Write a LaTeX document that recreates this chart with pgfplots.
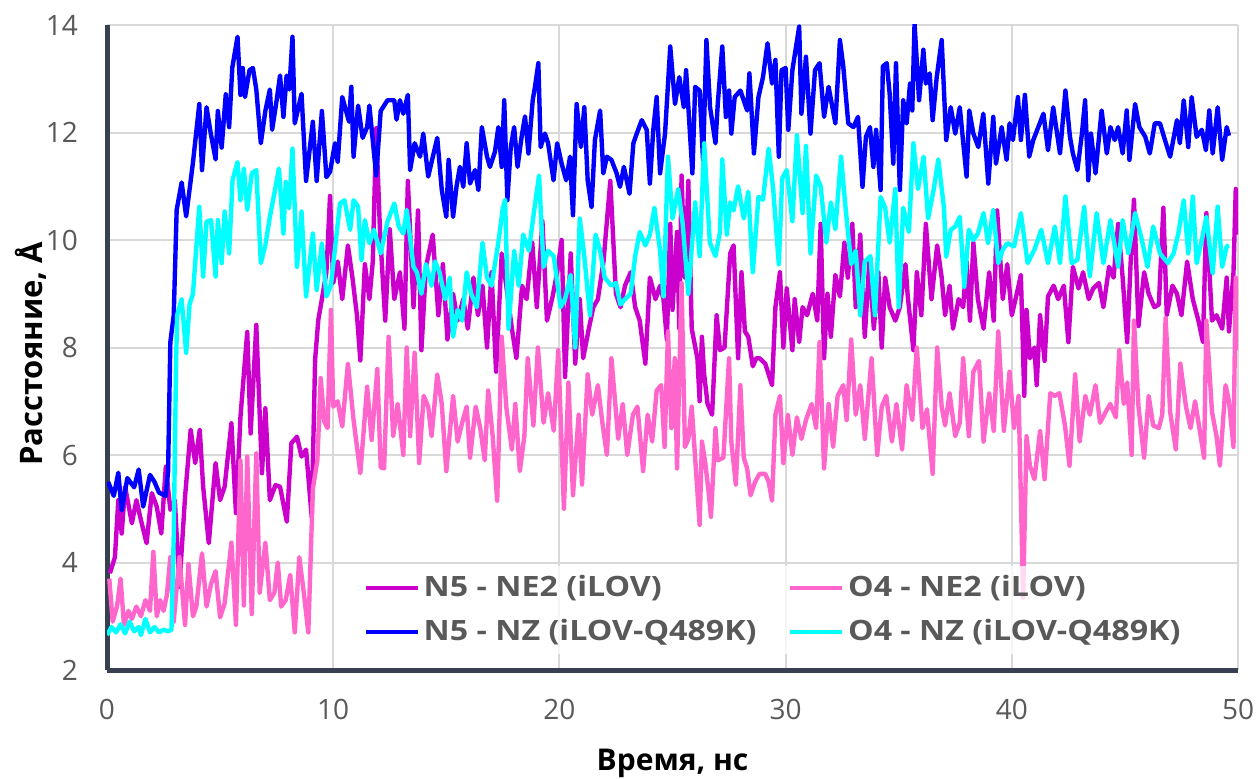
\documentclass[border=0pt]{standalone}
\usepackage{fontspec}
\setmainfont{Open Sans}
\newfontfamily\legfont{Open Sans}[FakeStretch=1.15]
\usepackage{pgfplots}
\pgfplotsset{compat=1.18}
\definecolor{cMag}{RGB}{204,0,204}
\definecolor{cPink}{RGB}{255,102,204}
\definecolor{cBlue}{RGB}{0,0,255}
\definecolor{cCyan}{RGB}{0,255,255}
\definecolor{axisdark}{RGB}{54,64,80}
\definecolor{gridgray}{RGB}{217,217,217}
\definecolor{txtgray}{RGB}{89,89,89}

\begin{document}
\begin{tikzpicture}
\begin{axis}[
  scale only axis,
  width=565.5pt, height=322.5pt,
  xmin=0, xmax=50, ymin=2, ymax=14,
  xtick={0,10,...,50}, ytick={2,4,...,14},
  axis x line*=bottom, axis y line*=left,
  axis line style={draw=axisdark, line width=2.5pt},
  major tick length=0pt,
  grid=major,
  major grid style={draw=gridgray, line width=1pt},
  /pgf/number format/assume math mode=true,
  tick label style={font=\fontsize{14}{16}\selectfont, text=txtgray},
  xticklabel style={yshift=-11pt},
  yticklabel style={xshift=-11pt},
  xlabel={Время, нс},
  ylabel={Расстояние, Å},
  xlabel style={font=\fontsize{15}{18}\selectfont\bfseries, at={(axis description cs:0.5,-0.1450)}, anchor=center},
  ylabel style={font=\fontsize{15.5}{18}\selectfont\bfseries, at={(axis description cs:-0.0672,0.49)}, anchor=center},
  every axis plot/.append style={line width=2.2pt, line join=round, no markers},
  legend columns=2,
  legend cell align=left,
  legend image code/.code={\draw[#1, line width=1.8pt] (0pt,0pt) -- (26pt,0pt);},
  legend style={
    at={(rel axis cs:0.2217,0.024)}, anchor=south west,
    draw=none, fill=white, fill opacity=0.75, text opacity=1,
    font=\fontsize{14}{17}\selectfont\legfont\bfseries, text=txtgray,
    nodes={inner sep=2pt, text height=11pt, text depth=3pt},
    row sep=4pt,
    /tikz/column 2/.style={column sep=14pt}
  },
]

% N5 - NE2 (iLOV)
\addplot[cMag] coordinates {
(0.13,3.8) (0.35,4.1) (0.5,5.16) (0.65,4.54) (0.8,5.41) (1.1,4.73) (1.3,5.16) (1.5,4.79) (1.75,4.36) (1.98,5.29)
(2.2,5.04) (2.4,4.54) (2.6,5.78) (2.8,4.98) (3.0,5.16) (3.2,3.55) (3.45,5.22) (3.7,6.47) (3.9,5.85) (4.1,6.47)
(4.25,5.41) (4.5,4.36) (4.8,5.85) (5.0,5.16) (5.2,5.41) (5.5,6.59) (5.7,4.92) (5.9,6.71) (6.2,8.29) (6.35,6.4)
(6.6,8.42) (6.85,5.66) (7.0,6.87) (7.2,5.16) (7.45,5.44) (7.65,5.41) (7.95,4.76) (8.15,6.22) (8.4,6.34) (8.6,5.97)
(8.8,6.1) (9.05,4.85) (9.2,7.77) (9.34,8.51) (9.5,8.9) (9.7,9.4) (9.86,10.82) (10.0,9.2) (10.2,9.6) (10.4,8.9)
(10.65,9.9) (10.85,9.3) (11.05,8.6) (11.2,7.76) (11.4,9.55) (11.6,8.9) (11.75,9.6) (11.9,12.08) (12.07,10.15) (12.3,8.5)
(12.5,10.2) (12.7,8.9) (12.95,9.4) (13.15,8.35) (13.3,11.1) (13.55,8.75) (13.75,10.55) (13.9,7.95) (14.1,9.5) (14.4,10.1)
(14.65,8.6) (14.85,9.55) (15.05,8.15) (15.3,9.0) (15.5,8.5) (15.75,8.9) (15.95,8.35) (16.2,9.3) (16.4,8.6) (16.6,9.15)
(16.8,8.0) (17.0,9.4) (17.2,7.55) (17.45,9.75) (17.65,9.15) (17.9,8.35) (18.1,7.8) (18.35,9.15) (18.55,8.9) (18.8,9.95)
(19.0,8.75) (19.25,10.35) (19.45,8.5) (19.7,8.95) (19.9,9.4) (20.1,10.0) (20.25,7.45) (20.5,9.75) (20.7,7.7) (20.9,8.9)
(21.05,7.8) (21.3,8.35) (21.5,8.75) (21.7,8.9) (21.95,9.6) (22.25,11.1) (22.5,9.0) (22.7,8.75) (22.9,9.15) (23.15,9.4)
(23.35,8.75) (23.55,8.5) (23.8,7.7) (24.0,9.3) (24.25,8.9) (24.45,9.15) (24.6,8.9) (24.75,8.15) (24.9,10.3) (25.0,8.7)
(25.2,10.15) (25.3,8.35) (25.4,11.2) (25.55,9.3) (25.7,11.1) (25.85,8.35) (26.1,7.8) (26.2,7.0) (26.3,8.2) (26.4,7.5)
(26.55,6.95) (26.75,6.75) (26.95,8.6) (27.1,7.95) (27.3,8.0) (27.55,9.75) (27.7,9.9) (27.9,7.8) (28.05,9.4) (28.2,8.3)
(28.35,8.2) (28.55,7.65) (28.7,7.8) (28.85,7.8) (29.1,7.7) (29.4,7.3) (29.55,8.75) (29.75,9.4) (29.9,8.0) (30.05,9.1)
(30.3,7.95) (30.4,8.9) (30.6,8.1) (30.75,8.75) (30.95,8.6) (31.2,9.0) (31.4,8.5) (31.55,10.3) (31.7,7.8) (31.85,9.0)
(32.0,8.2) (32.2,9.35) (32.4,8.95) (32.6,9.95) (32.75,9.3) (32.95,10.3) (33.1,8.75) (33.3,10.1) (33.5,8.2) (33.7,9.6)
(33.9,8.35) (34.1,9.4) (34.25,8.0) (34.4,9.3) (34.6,8.75) (34.85,8.5) (35.05,8.75) (35.3,9.55) (35.4,8.95) (35.65,7.95)
(35.8,9.4) (36.0,8.6) (36.2,10.3) (36.45,8.9) (36.7,9.9) (36.9,9.3) (37.05,8.6) (37.25,9.15) (37.4,8.35) (37.65,8.9)
(37.85,8.75) (38.0,9.6) (38.15,8.5) (38.3,9.95) (38.5,8.9) (38.75,8.35) (39.0,9.4) (39.2,8.5) (39.35,10.55) (39.6,8.9)
(39.8,9.55) (40.0,8.6) (40.3,9.15) (40.4,9.35) (40.55,7.1) (40.65,8.7) (40.8,7.8) (41.0,8.0) (41.1,7.3) (41.25,8.6)
(41.45,7.75) (41.6,8.95) (41.85,9.15) (42.05,8.9) (42.3,9.15) (42.5,8.1) (42.7,9.5) (42.95,9.1) (43.15,9.4) (43.4,8.9)
(43.6,9.1) (43.85,9.2) (44.05,8.75) (44.3,9.5) (44.5,9.3) (44.7,10.3) (44.9,9.3) (45.1,8.1) (45.25,9.55) (45.4,10.75)
(45.6,8.4) (45.85,9.4) (46.05,9.0) (46.3,8.75) (46.5,8.8) (46.7,10.6) (46.85,8.6) (47.1,9.15) (47.3,9.0) (47.5,8.6)
(47.75,9.6) (48.0,8.9) (48.25,8.5) (48.45,8.1) (48.6,10.5) (48.85,8.5) (49.05,8.6) (49.3,8.35) (49.5,9.3) (49.6,8.3)
(49.8,9.4) (49.9,10.95) (50.0,10.1)
};
\addlegendentry{N5 - NE2 (iLOV)}

% O4 - NE2 (iLOV)
\addplot[cPink] coordinates {
(0.1,3.7) (0.25,2.9) (0.45,3.2) (0.6,3.7) (0.75,2.84) (0.95,3.1) (1.1,2.95) (1.3,3.18) (1.5,3.0) (1.7,3.3)
(1.9,3.1) (2.05,4.2) (2.2,3.0) (2.35,3.3) (2.5,3.1) (2.65,3.4) (2.8,4.1) (2.95,2.9) (3.2,4.1) (3.45,2.84)
(3.6,3.97) (3.8,3.0) (3.95,3.18) (4.2,4.17) (4.4,3.18) (4.6,3.6) (4.8,3.84) (5.0,2.98) (5.2,3.24) (5.5,4.37)
(5.7,2.84) (5.9,5.9) (6.05,3.2) (6.2,5.97) (6.4,3.04) (6.6,6.03) (6.75,3.44) (7.0,4.37) (7.2,3.3) (7.4,3.44)
(7.55,4.0) (7.7,3.18) (7.9,3.3) (8.1,3.77) (8.3,2.7) (8.5,4.1) (8.7,3.44) (8.9,2.7) (9.1,5.37) (9.3,5.9)
(9.45,7.43) (9.6,6.63) (9.75,6.5) (9.9,8.7) (10.0,6.9) (10.2,7.0) (10.4,6.53) (10.65,7.7) (10.9,6.65) (11.2,5.66)
(11.5,7.27) (11.7,6.28) (11.95,7.6) (12.1,5.77) (12.25,5.75) (12.45,8.2) (12.65,6.35) (12.85,6.95) (13.1,6.0) (13.25,8.0)
(13.4,6.35) (13.6,7.9) (13.8,5.85) (14.0,7.1) (14.2,6.9) (14.35,6.35) (14.6,7.5) (14.8,6.95) (15.0,5.7) (15.3,7.1)
(15.5,6.25) (15.7,6.6) (15.9,6.9) (16.05,5.95) (16.3,6.9) (16.5,6.5) (16.7,5.9) (16.85,7.2) (17.05,6.35) (17.25,5.15)
(17.45,8.2) (17.65,6.9) (17.9,6.1) (18.05,6.95) (18.25,5.7) (18.45,6.35) (18.6,7.8) (18.85,6.55) (19.05,8.0) (19.3,6.6)
(19.5,7.15) (19.75,6.45) (19.95,7.95) (20.2,5.0) (20.4,7.35) (20.6,5.25) (20.85,6.75) (21.0,5.45) (21.25,7.5) (21.45,6.75)
(21.7,7.3) (21.9,6.6) (22.1,6.0) (22.3,7.8) (22.6,6.3) (22.8,6.95) (23.0,6.0) (23.25,6.75) (23.45,6.9) (23.7,5.7)
(23.9,6.75) (24.1,6.25) (24.3,7.2) (24.5,7.3) (24.65,6.15) (24.8,8.3) (24.95,6.5) (25.1,7.8) (25.2,5.75) (25.4,9.2)
(25.55,6.15) (25.7,6.3) (25.85,6.9) (26.0,5.95) (26.2,4.7) (26.3,6.25) (26.45,5.85) (26.6,5.3) (26.7,4.85) (26.9,6.5)
(27.0,5.9) (27.25,5.95) (27.5,7.8) (27.6,6.25) (27.8,5.45) (28.0,7.3) (28.15,5.95) (28.3,5.75) (28.45,5.25) (28.65,5.5)
(28.85,5.65) (29.1,5.65) (29.25,5.5) (29.4,5.15) (29.55,6.75) (29.75,7.1) (29.9,5.85) (30.1,6.75) (30.3,6.0) (30.5,6.7)
(30.7,6.3) (30.9,6.65) (31.15,6.95) (31.35,6.5) (31.5,8.1) (31.7,5.75) (31.9,6.95) (32.1,6.15) (32.3,7.1) (32.55,7.3)
(32.7,6.65) (32.9,8.15) (33.1,6.75) (33.3,7.3) (33.5,6.3) (33.8,7.8) (34.05,6.0) (34.25,6.9) (34.45,7.1) (34.7,6.25)
(34.9,6.95) (35.15,6.1) (35.35,7.3) (35.6,6.65) (35.8,8.0) (36.05,6.5) (36.25,6.85) (36.5,5.65) (36.7,8.0) (36.9,6.9)
(37.05,6.55) (37.25,7.15) (37.5,6.35) (37.7,6.6) (37.85,7.8) (38.1,6.35) (38.3,7.55) (38.55,7.75) (38.75,6.25) (39.0,7.15)
(39.2,6.45) (39.4,8.3) (39.65,6.45) (39.9,7.55) (40.1,6.5) (40.3,7.1) (40.5,3.35) (40.65,6.35) (40.8,5.8) (41.0,5.55)
(41.25,6.45) (41.45,5.55) (41.7,7.15) (41.9,7.1) (42.1,7.15) (42.35,6.55) (42.55,5.8) (42.8,7.5) (43.0,6.25) (43.25,7.1)
(43.45,6.75) (43.7,7.3) (43.9,6.6) (44.15,6.8) (44.35,6.95) (44.6,6.7) (44.75,7.95) (44.95,6.95) (45.1,7.35) (45.3,6.0)
(45.4,8.5) (45.6,6.9) (45.85,5.95) (46.05,7.1) (46.25,6.55) (46.5,6.5) (46.65,6.75) (46.8,8.55) (47.0,6.8) (47.25,6.1)
(47.45,7.7) (47.7,6.9) (47.9,6.5) (48.1,7.0) (48.35,6.35) (48.5,5.95) (48.6,8.5) (48.85,6.8) (49.05,6.35) (49.2,5.8)
(49.45,7.3) (49.6,7.0) (49.8,6.15) (49.9,9.3) (50.0,7.95)
};
\addlegendentry{O4 - NE2 (iLOV)}

% N5 - NZ (iLOV-Q489K)
\addplot[cBlue] coordinates {
(0.05,5.5) (0.3,5.24) (0.5,5.67) (0.65,4.97) (0.9,5.57) (1.2,5.4) (1.4,5.73) (1.6,5.04) (1.9,5.63) (2.1,5.5)
(2.3,5.3) (2.6,5.24) (2.7,5.7) (2.8,8.1) (2.95,8.6) (3.08,10.56) (3.3,11.07) (3.5,10.44) (3.8,11.44) (4.08,12.53)
(4.2,11.3) (4.4,12.47) (4.58,12.0) (4.8,11.5) (4.9,12.4) (5.07,11.72) (5.25,12.71) (5.4,12.1) (5.54,13.21) (5.77,13.78)
(5.9,12.7) (6.0,13.2) (6.1,12.66) (6.3,13.16) (6.45,13.2) (6.6,12.8) (6.8,11.8) (7.0,12.4) (7.2,12.8) (7.3,12.05)
(7.5,12.6) (7.65,13.06) (7.8,12.29) (7.94,13.06) (8.06,12.8) (8.2,13.78) (8.3,12.17) (8.6,12.72) (8.8,11.1) (9.1,12.2)
(9.27,11.1) (9.5,12.4) (9.7,11.17) (9.86,11.27) (10.08,11.8) (10.2,11.45) (10.4,12.66) (10.7,12.2) (10.8,12.85) (10.9,11.55)
(11.1,12.5) (11.3,11.9) (11.5,12.1) (11.6,12.5) (11.9,11.2) (12.1,12.4) (12.4,12.6) (12.7,12.6) (12.8,12.24) (12.95,12.6)
(13.1,12.35) (13.3,12.7) (13.4,11.3) (13.6,11.8) (13.84,11.55) (13.98,11.98) (14.2,11.18) (14.6,11.9) (14.8,10.93) (15.0,10.43)
(15.1,11.49) (15.3,10.43) (15.45,10.99) (15.6,11.36) (15.75,10.99) (15.9,11.8) (16.05,11.05) (16.27,11.3) (16.42,10.93) (16.57,12.1)
(16.8,11.55) (16.93,11.36) (17.15,11.64) (17.3,12.1) (17.45,11.36) (17.56,12.6) (17.7,10.74) (17.85,11.73) (18.0,12.1) (18.15,11.36)
(18.33,11.92) (18.48,12.3) (18.63,11.61) (18.82,12.6) (18.92,12.85) (19.07,13.29) (19.17,11.73) (19.36,11.98) (19.5,11.8) (19.74,11.11)
(19.9,11.8) (20.1,11.42) (20.3,11.11) (20.47,11.55) (20.6,10.46) (20.76,12.53) (20.95,11.73) (21.1,12.47) (21.25,11.11) (21.42,10.61)
(21.57,11.86) (21.8,12.41) (21.94,11.24) (22.1,11.55) (22.3,11.49) (22.53,11.24) (22.68,10.99) (22.85,11.36) (23.1,10.86) (23.27,11.8)
(23.42,11.98) (23.64,12.23) (23.86,12.05) (24.0,11.05) (24.15,12.05) (24.3,12.66) (24.45,11.24) (24.67,11.98) (24.9,13.6) (25.11,12.53)
(25.3,13.03) (25.5,12.47) (25.6,13.16) (25.88,11.24) (26.0,12.85) (26.2,12.78) (26.35,11.49) (26.5,13.72) (26.66,12.47) (26.9,11.8)
(27.0,12.53) (27.2,13.6) (27.36,12.29) (27.5,12.78) (27.6,11.98) (27.75,12.66) (28.0,12.78) (28.3,12.41) (28.4,13.1) (28.6,11.61)
(28.8,12.66) (29.0,13.03) (29.2,13.66) (29.4,12.91) (29.55,13.35) (29.7,11.55) (29.82,13.16) (30.0,13.2) (30.12,12.05) (30.3,13.16)
(30.6,13.97) (30.7,12.35) (30.9,13.41) (31.1,11.98) (31.3,13.16) (31.5,13.29) (31.7,12.29) (31.9,12.85) (32.2,12.17) (32.4,13.72)
(32.55,13.23) (32.77,12.17) (33.0,12.1) (33.2,12.29) (33.4,10.99) (33.55,11.92) (33.73,12.1) (33.88,11.36) (34.0,12.05) (34.2,10.93)
(34.3,13.23) (34.47,13.29) (34.6,12.72) (34.76,11.42) (34.88,13.29) (35.05,10.93) (35.2,12.6) (35.35,12.17) (35.5,12.91) (35.6,12.41)
(35.7,14.03) (35.9,12.6) (36.09,13.54) (36.2,12.91) (36.37,13.1) (36.5,12.23) (36.68,13.03) (36.9,13.72) (37.1,11.86) (37.3,12.47)
(37.5,11.98) (37.7,12.47) (38.0,11.18) (38.12,12.41) (38.3,11.98) (38.52,11.73) (38.74,12.35) (38.96,11.05) (39.18,12.29) (39.3,11.42)
(39.55,12.1) (39.77,11.49) (39.9,12.17) (40.05,11.86) (40.27,12.66) (40.4,11.86) (40.58,12.7) (40.77,11.55) (40.95,11.86) (41.17,12.1)
(41.4,12.35) (41.6,11.67) (41.83,12.47) (42.13,11.61) (42.37,12.78) (42.57,11.92) (42.7,11.61) (42.9,11.3) (43.1,11.98) (43.24,12.6)
(43.38,11.11) (43.5,11.98) (43.7,11.24) (43.97,12.41) (44.2,11.61) (44.36,12.1) (44.55,11.86) (44.7,12.1) (44.9,11.61) (45.08,12.41)
(45.2,11.49) (45.45,12.53) (45.64,12.1) (45.9,11.92) (46.1,11.61) (46.32,12.17) (46.55,12.17) (46.77,11.86) (47.0,11.55) (47.3,12.23)
(47.43,11.8) (47.6,12.6) (47.8,11.73) (47.95,12.66) (48.17,11.92) (48.4,12.05) (48.58,11.67) (48.73,12.41) (48.88,11.61) (49.1,12.47)
(49.3,11.49) (49.5,12.1) (49.6,11.94)
};
\addlegendentry{N5 - NZ (iLOV-Q489K)}

% O4 - NZ (iLOV-Q489K)
\addplot[cCyan] coordinates {
(0.0,2.65) (0.2,2.8) (0.4,2.7) (0.6,2.85) (0.8,2.68) (1.0,2.9) (1.2,2.72) (1.4,2.8) (1.5,2.65) (1.7,2.95)
(1.9,2.7) (2.1,2.8) (2.3,2.7) (2.5,2.75) (2.7,2.72) (2.85,2.75) (2.95,4.5) (3.05,7.6) (3.1,8.6) (3.3,8.9)
(3.5,7.9) (3.65,8.8) (3.8,9.0) (4.08,10.62) (4.25,9.32) (4.4,10.34) (4.6,10.37) (4.8,9.32) (4.9,10.37) (5.07,9.57)
(5.2,10.53) (5.4,9.75) (5.55,11.12) (5.77,11.45) (5.9,10.74) (6.05,11.33) (6.2,10.56) (6.4,11.24) (6.6,11.3) (6.8,9.57)
(7.0,9.9) (7.2,10.43) (7.4,10.87) (7.6,11.33) (7.8,10.12) (7.9,11.08) (8.05,10.59) (8.2,11.7) (8.4,9.5) (8.6,10.53)
(8.8,8.95) (9.1,10.12) (9.27,9.07) (9.5,9.94) (9.7,8.95) (9.9,9.16) (10.3,10.68) (10.5,10.74) (10.75,10.19) (10.9,10.74)
(11.1,10.62) (11.25,9.63) (11.4,10.37) (11.6,9.94) (11.8,10.19) (12.1,9.75) (12.4,10.34) (12.7,10.68) (12.9,10.25) (13.1,10.12)
(13.25,10.56) (13.55,9.5) (13.7,9.4) (13.9,9.0) (14.1,9.55) (14.35,9.15) (14.5,9.6) (14.7,9.4) (14.95,8.9) (15.15,9.3)
(15.3,8.2) (15.5,8.7) (15.7,8.5) (15.9,9.4) (16.1,9.0) (16.35,8.75) (16.6,9.95) (16.8,9.3) (17.0,9.15) (17.3,9.95)
(17.5,10.6) (17.6,10.75) (17.75,8.35) (18.0,9.8) (18.2,9.15) (18.4,10.1) (18.65,9.8) (18.9,10.6) (19.1,11.2) (19.3,9.5)
(19.5,9.8) (19.75,9.7) (20.05,8.75) (20.25,8.9) (20.5,9.35) (20.7,8.0) (20.9,10.4) (21.1,9.7) (21.35,8.6) (21.6,10.1)
(21.8,9.8) (22.0,9.3) (22.3,9.15) (22.5,9.2) (22.7,8.8) (22.9,8.9) (23.15,9.0) (23.35,9.7) (23.55,10.15) (23.8,9.9)
(24.0,10.1) (24.2,10.6) (24.45,9.8) (24.6,8.95) (24.8,11.55) (25.0,10.4) (25.25,10.95) (25.45,10.3) (25.7,9.0) (26.0,10.7)
(26.2,9.7) (26.4,11.8) (26.65,9.95) (26.9,9.7) (27.1,10.15) (27.2,11.5) (27.4,10.1) (27.55,10.7) (27.7,10.55) (27.9,11.0)
(28.15,10.4) (28.35,10.9) (28.55,9.4) (28.8,10.8) (29.0,10.75) (29.25,11.7) (29.45,10.95) (29.7,9.55) (29.85,11.15) (30.05,11.3)
(30.3,10.35) (30.5,11.95) (30.75,10.5) (30.9,11.75) (31.1,9.75) (31.35,11.2) (31.55,11.0) (31.8,9.95) (32.0,10.7) (32.2,10.2)
(32.45,11.55) (32.65,10.6) (32.9,9.55) (33.1,9.8) (33.3,8.6) (33.5,9.6) (33.75,9.7) (33.95,8.6) (34.2,10.8) (34.4,10.6)
(34.6,9.95) (34.85,10.95) (35.0,8.75) (35.2,10.6) (35.45,10.15) (35.65,11.8) (35.85,10.95) (36.1,11.55) (36.3,10.4) (36.55,10.95)
(36.75,11.5) (37.0,10.6) (37.1,9.69) (37.3,10.19) (37.5,10.25) (37.7,10.43) (37.9,9.13) (38.1,10.19) (38.3,10.0) (38.5,10.12)
(38.75,10.5) (38.95,9.94) (39.18,10.56) (39.4,9.57) (39.6,9.82) (39.8,9.94) (40.1,9.88) (40.4,10.5) (40.7,9.57) (41.0,9.82)
(41.3,10.19) (41.6,9.57) (41.9,10.25) (42.13,9.57) (42.37,10.81) (42.65,9.57) (42.9,9.63) (43.2,10.62) (43.45,9.32) (43.75,10.5)
(44.05,9.57) (44.36,10.37) (44.7,9.5) (44.9,10.37) (45.15,9.75) (45.45,10.5) (45.75,10.0) (46.0,9.5) (46.25,10.25) (46.55,9.75)
(46.9,9.57) (47.15,9.75) (47.36,10.12) (47.6,10.74) (47.8,9.75) (48.0,10.81) (48.17,9.57) (48.4,10.0) (48.6,10.43) (48.88,9.38)
(49.1,10.62) (49.3,9.5) (49.5,9.88) (49.6,9.9)
};
\addlegendentry{O4 - NZ (iLOV-Q489K)}

\end{axis}
\pgfresetboundingbox
\path[use as bounding box] (-53.5pt,-54pt) rectangle (574.5pt,335pt);
\end{tikzpicture}
\end{document}
